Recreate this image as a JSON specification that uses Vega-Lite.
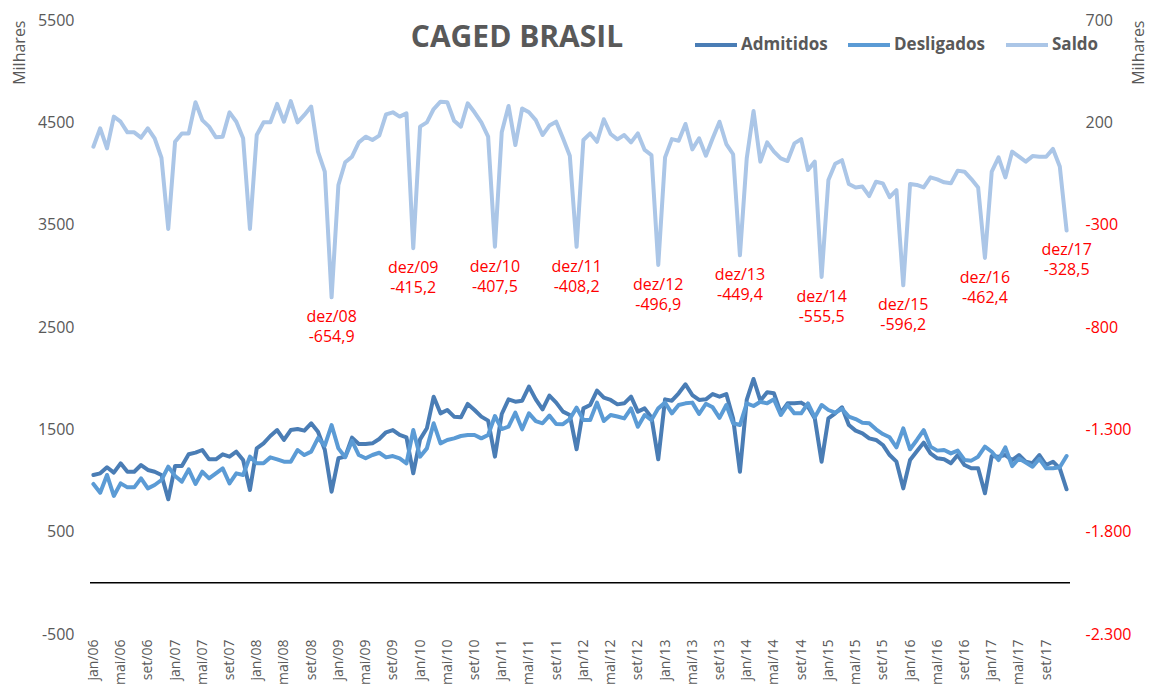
{
  "$schema": "https://vega.github.io/schema/vega-lite/v6.json",
  "width": 980,
  "height": 614,
  "autosize": "none",
  "padding": {"left": 90, "top": 20, "right": 92, "bottom": 53},
  "background": "white",
  "config": {"font": "Open Sans", "view": {"stroke": null}},
  "title": {"text": "CAGED BRASIL", "anchor": "middle", "frame": "group", "fontSize": 30, "fontWeight": "bold", "color": "#595959", "font": "Open Sans", "dx": -63, "dy": 45},
  "data": {"values": [
    {"mes":"jan/06","Admitidos":1054,"Desligados":966,"Saldo":81},
    {"mes":"fev/06","Admitidos":1070,"Desligados":881,"Saldo":171},
    {"mes":"mar/06","Admitidos":1129,"Desligados":1054,"Saldo":73},
    {"mes":"abr/06","Admitidos":1077,"Desligados":849,"Saldo":228},
    {"mes":"mai/06","Admitidos":1168,"Desligados":972,"Saldo":203},
    {"mes":"jun/06","Admitidos":1086,"Desligados":933,"Saldo":151},
    {"mes":"jul/06","Admitidos":1086,"Desligados":933,"Saldo":151},
    {"mes":"ago/06","Admitidos":1151,"Desligados":1021,"Saldo":125},
    {"mes":"set/06","Admitidos":1103,"Desligados":923,"Saldo":171},
    {"mes":"out/06","Admitidos":1086,"Desligados":956,"Saldo":122},
    {"mes":"nov/06","Admitidos":1054,"Desligados":1005,"Saldo":27},
    {"mes":"dez/06","Admitidos":816,"Desligados":1135,"Saldo":-321},
    {"mes":"jan/07","Admitidos":1142,"Desligados":1044,"Saldo":105},
    {"mes":"fev/07","Admitidos":1142,"Desligados":989,"Saldo":146},
    {"mes":"mar/07","Admitidos":1256,"Desligados":1109,"Saldo":146},
    {"mes":"abr/07","Admitidos":1272,"Desligados":966,"Saldo":298},
    {"mes":"mai/07","Admitidos":1298,"Desligados":1086,"Saldo":211},
    {"mes":"jun/07","Admitidos":1207,"Desligados":1021,"Saldo":179},
    {"mes":"jul/07","Admitidos":1207,"Desligados":1070,"Saldo":127},
    {"mes":"ago/07","Admitidos":1256,"Desligados":1119,"Saldo":130},
    {"mes":"set/07","Admitidos":1233,"Desligados":972,"Saldo":249},
    {"mes":"out/07","Admitidos":1282,"Desligados":1070,"Saldo":203},
    {"mes":"nov/07","Admitidos":1200,"Desligados":1054,"Saldo":122},
    {"mes":"dez/07","Admitidos":907,"Desligados":1233,"Saldo":-321},
    {"mes":"jan/08","Admitidos":1314,"Desligados":1168,"Saldo":138},
    {"mes":"fev/08","Admitidos":1363,"Desligados":1168,"Saldo":200},
    {"mes":"mar/08","Admitidos":1435,"Desligados":1226,"Saldo":200},
    {"mes":"abr/08","Admitidos":1493,"Desligados":1207,"Saldo":290},
    {"mes":"mai/08","Admitidos":1396,"Desligados":1184,"Saldo":203},
    {"mes":"jun/08","Admitidos":1493,"Desligados":1184,"Saldo":304},
    {"mes":"jul/08","Admitidos":1503,"Desligados":1298,"Saldo":200},
    {"mes":"ago/08","Admitidos":1487,"Desligados":1249,"Saldo":236},
    {"mes":"set/08","Admitidos":1559,"Desligados":1282,"Saldo":277},
    {"mes":"out/08","Admitidos":1477,"Desligados":1415,"Saldo":57},
    {"mes":"nov/08","Admitidos":1300,"Desligados":1341,"Saldo":-41},
    {"mes":"dez/08","Admitidos":891,"Desligados":1542,"Saldo":-654.9},
    {"mes":"jan/09","Admitidos":1217,"Desligados":1314,"Saldo":-106},
    {"mes":"fev/09","Admitidos":1233,"Desligados":1228,"Saldo":5},
    {"mes":"mar/09","Admitidos":1419,"Desligados":1387,"Saldo":32},
    {"mes":"abr/09","Admitidos":1357,"Desligados":1249,"Saldo":102},
    {"mes":"mai/09","Admitidos":1357,"Desligados":1217,"Saldo":130},
    {"mes":"jun/09","Admitidos":1363,"Desligados":1249,"Saldo":114},
    {"mes":"jul/09","Admitidos":1406,"Desligados":1271,"Saldo":135},
    {"mes":"ago/09","Admitidos":1471,"Desligados":1226,"Saldo":239},
    {"mes":"set/09","Admitidos":1493,"Desligados":1239,"Saldo":249},
    {"mes":"out/09","Admitidos":1445,"Desligados":1217,"Saldo":228},
    {"mes":"nov/09","Admitidos":1422,"Desligados":1168,"Saldo":244},
    {"mes":"dez/09","Admitidos":1070,"Desligados":1493,"Saldo":-415.2},
    {"mes":"jan/10","Admitidos":1402,"Desligados":1233,"Saldo":179},
    {"mes":"fev/10","Admitidos":1510,"Desligados":1314,"Saldo":200},
    {"mes":"mar/10","Admitidos":1819,"Desligados":1559,"Saldo":265},
    {"mes":"abr/10","Admitidos":1656,"Desligados":1363,"Saldo":301},
    {"mes":"mai/10","Admitidos":1689,"Desligados":1396,"Saldo":298},
    {"mes":"jun/10","Admitidos":1624,"Desligados":1412,"Saldo":208},
    {"mes":"jul/10","Admitidos":1617,"Desligados":1435,"Saldo":179},
    {"mes":"ago/10","Admitidos":1748,"Desligados":1445,"Saldo":293},
    {"mes":"set/10","Admitidos":1689,"Desligados":1445,"Saldo":249},
    {"mes":"out/10","Admitidos":1624,"Desligados":1412,"Saldo":200},
    {"mes":"nov/10","Admitidos":1585,"Desligados":1445,"Saldo":130},
    {"mes":"dez/10","Admitidos":1233,"Desligados":1630,"Saldo":-407.5},
    {"mes":"jan/11","Admitidos":1650,"Desligados":1503,"Saldo":151},
    {"mes":"fev/11","Admitidos":1793,"Desligados":1526,"Saldo":280},
    {"mes":"mar/11","Admitidos":1770,"Desligados":1663,"Saldo":89},
    {"mes":"abr/11","Admitidos":1780,"Desligados":1500,"Saldo":268},
    {"mes":"mai/11","Admitidos":1917,"Desligados":1656,"Saldo":249},
    {"mes":"jun/11","Admitidos":1793,"Desligados":1580,"Saldo":211},
    {"mes":"jul/11","Admitidos":1695,"Desligados":1559,"Saldo":138},
    {"mes":"ago/11","Admitidos":1829,"Desligados":1634,"Saldo":184},
    {"mes":"set/11","Admitidos":1761,"Desligados":1552,"Saldo":203},
    {"mes":"out/11","Admitidos":1673,"Desligados":1550,"Saldo":122},
    {"mes":"nov/11","Admitidos":1640,"Desligados":1600,"Saldo":37},
    {"mes":"dez/11","Admitidos":1305,"Desligados":1712,"Saldo":-408.2},
    {"mes":"jan/12","Admitidos":1705,"Desligados":1591,"Saldo":114},
    {"mes":"fev/12","Admitidos":1738,"Desligados":1591,"Saldo":146},
    {"mes":"mar/12","Admitidos":1878,"Desligados":1761,"Saldo":105},
    {"mes":"abr/12","Admitidos":1809,"Desligados":1581,"Saldo":215},
    {"mes":"mai/12","Admitidos":1787,"Desligados":1640,"Saldo":143},
    {"mes":"jun/12","Admitidos":1744,"Desligados":1625,"Saldo":117},
    {"mes":"jul/12","Admitidos":1754,"Desligados":1607,"Saldo":138},
    {"mes":"ago/12","Admitidos":1819,"Desligados":1705,"Saldo":102},
    {"mes":"set/12","Admitidos":1673,"Desligados":1525,"Saldo":146},
    {"mes":"out/12","Admitidos":1705,"Desligados":1640,"Saldo":65},
    {"mes":"nov/12","Admitidos":1617,"Desligados":1591,"Saldo":40},
    {"mes":"dez/12","Admitidos":1207,"Desligados":1705,"Saldo":-496.9},
    {"mes":"jan/13","Admitidos":1793,"Desligados":1761,"Saldo":29},
    {"mes":"fev/13","Admitidos":1780,"Desligados":1656,"Saldo":118},
    {"mes":"mar/13","Admitidos":1852,"Desligados":1738,"Saldo":110},
    {"mes":"abr/13","Admitidos":1940,"Desligados":1754,"Saldo":192},
    {"mes":"mai/13","Admitidos":1835,"Desligados":1761,"Saldo":68},
    {"mes":"jun/13","Admitidos":1787,"Desligados":1650,"Saldo":122},
    {"mes":"jul/13","Admitidos":1793,"Desligados":1750,"Saldo":37},
    {"mes":"ago/13","Admitidos":1845,"Desligados":1715,"Saldo":122},
    {"mes":"set/13","Admitidos":1819,"Desligados":1612,"Saldo":203},
    {"mes":"out/13","Admitidos":1845,"Desligados":1738,"Saldo":94},
    {"mes":"nov/13","Admitidos":1605,"Desligados":1559,"Saldo":44},
    {"mes":"dez/13","Admitidos":1086,"Desligados":1542,"Saldo":-449.4},
    {"mes":"jan/14","Admitidos":1787,"Desligados":1754,"Saldo":24},
    {"mes":"fev/14","Admitidos":1992,"Desligados":1728,"Saldo":255},
    {"mes":"mar/14","Admitidos":1780,"Desligados":1770,"Saldo":8},
    {"mes":"abr/14","Admitidos":1862,"Desligados":1754,"Saldo":102},
    {"mes":"mai/14","Admitidos":1852,"Desligados":1793,"Saldo":57},
    {"mes":"jun/14","Admitidos":1660,"Desligados":1640,"Saldo":24},
    {"mes":"jul/14","Admitidos":1754,"Desligados":1738,"Saldo":11},
    {"mes":"ago/14","Admitidos":1754,"Desligados":1656,"Saldo":97},
    {"mes":"set/14","Admitidos":1761,"Desligados":1656,"Saldo":118},
    {"mes":"out/14","Admitidos":1721,"Desligados":1754,"Saldo":-33},
    {"mes":"nov/14","Admitidos":1607,"Desligados":1617,"Saldo":8},
    {"mes":"dez/14","Admitidos":1184,"Desligados":1738,"Saldo":-555.5},
    {"mes":"jan/15","Admitidos":1607,"Desligados":1689,"Saldo":-82},
    {"mes":"fev/15","Admitidos":1656,"Desligados":1663,"Saldo":-2},
    {"mes":"mar/15","Admitidos":1715,"Desligados":1700,"Saldo":15},
    {"mes":"abr/15","Admitidos":1542,"Desligados":1624,"Saldo":-101},
    {"mes":"mai/15","Admitidos":1487,"Desligados":1600,"Saldo":-118},
    {"mes":"jun/15","Admitidos":1461,"Desligados":1565,"Saldo":-114},
    {"mes":"jul/15","Admitidos":1412,"Desligados":1559,"Saldo":-160},
    {"mes":"ago/15","Admitidos":1396,"Desligados":1500,"Saldo":-90},
    {"mes":"set/15","Admitidos":1347,"Desligados":1454,"Saldo":-98},
    {"mes":"out/15","Admitidos":1249,"Desligados":1422,"Saldo":-166},
    {"mes":"nov/15","Admitidos":1184,"Desligados":1324,"Saldo":-131},
    {"mes":"dez/15","Admitidos":923,"Desligados":1510,"Saldo":-596.2},
    {"mes":"jan/16","Admitidos":1200,"Desligados":1305,"Saldo":-101},
    {"mes":"fev/16","Admitidos":1285,"Desligados":1396,"Saldo":-106},
    {"mes":"mar/16","Admitidos":1370,"Desligados":1493,"Saldo":-118},
    {"mes":"abr/16","Admitidos":1265,"Desligados":1331,"Saldo":-69},
    {"mes":"mai/16","Admitidos":1217,"Desligados":1292,"Saldo":-79},
    {"mes":"jun/16","Admitidos":1207,"Desligados":1298,"Saldo":-93},
    {"mes":"jul/16","Admitidos":1168,"Desligados":1265,"Saldo":-98},
    {"mes":"ago/16","Admitidos":1249,"Desligados":1292,"Saldo":-36},
    {"mes":"set/16","Admitidos":1151,"Desligados":1200,"Saldo":-41},
    {"mes":"out/16","Admitidos":1119,"Desligados":1194,"Saldo":-77},
    {"mes":"nov/16","Admitidos":1119,"Desligados":1233,"Saldo":-118},
    {"mes":"dez/16","Admitidos":875,"Desligados":1331,"Saldo":-462.4},
    {"mes":"jan/17","Admitidos":1240,"Desligados":1281,"Saldo":-41},
    {"mes":"fev/17","Admitidos":1233,"Desligados":1200,"Saldo":29},
    {"mes":"mar/17","Admitidos":1249,"Desligados":1324,"Saldo":-69},
    {"mes":"abr/17","Admitidos":1200,"Desligados":1140,"Saldo":57},
    {"mes":"mai/17","Admitidos":1249,"Desligados":1215,"Saldo":32},
    {"mes":"jun/17","Admitidos":1184,"Desligados":1176,"Saldo":8},
    {"mes":"jul/17","Admitidos":1170,"Desligados":1135,"Saldo":35},
    {"mes":"ago/17","Admitidos":1249,"Desligados":1212,"Saldo":32},
    {"mes":"set/17","Admitidos":1151,"Desligados":1119,"Saldo":32},
    {"mes":"out/17","Admitidos":1184,"Desligados":1119,"Saldo":70},
    {"mes":"nov/17","Admitidos":1119,"Desligados":1130,"Saldo":-16},
    {"mes":"dez/17","Admitidos":914,"Desligados":1239,"Saldo":-328.5}
  ]},
  "transform": [{"fold": ["Admitidos", "Desligados", "Saldo"], "as": ["serie", "valor"]}],
  "layer": [
    {
      "layer": [
        {
          "transform": [{"filter": "datum.serie != 'Saldo'"}],
          "mark": {"type": "line", "strokeWidth": 4, "strokeJoin": "round", "strokeCap": "round"},
          "encoding": {
            "x": {"field": "mes", "type": "ordinal", "sort": null, "scale": {"type": "point", "padding": 0.5},
              "axis": {"title": null, "orient": "bottom", "labelAngle": 270, "labelOverlap": false, "ticks": false, "domain": false,
                "labelExpr": "indexof(['jan','mai','set'], slice(datum.value,0,3)) >= 0 ? datum.value : ''",
                "labelFontSize": 14, "labelColor": "#595959", "labelPadding": 5}},
            "y": {"field": "valor", "type": "quantitative", "scale": {"domain": [-500, 5500], "nice": false, "zero": false},
              "axis": {"orient": "left", "values": [-500, 500, 1500, 2500, 3500, 4500, 5500], "grid": false, "ticks": false, "domain": false,
                "labelExpr": "replace(format(datum.value, 'd'), '\u2212', '-')",
                "labelFontSize": 16, "labelColor": "#595959", "labelPadding": 16,
                "title": "Milhares", "titleFontSize": 16, "titleFontWeight": "normal", "titleColor": "#595959", "titleAnchor": "end", "titlePadding": 10}},
            "color": {"field": "serie", "type": "nominal",
              "scale": {"domain": ["Admitidos", "Desligados", "Saldo"], "range": ["#4a7db5", "#5b9bd5", "#abc6e7"]},
              "legend": {"title": null, "orient": "none", "legendX": 603, "legendY": 2, "direction": "horizontal",
                "labelFontSize": 17, "labelFontWeight": "bold", "labelColor": "#595959", "symbolType": "stroke",
                "symbolSize": 1764, "symbolStrokeWidth": 4, "labelOffset": 2, "columnPadding": 12}}
          }
        },
        {
          "data": {"values": [{}]},
          "mark": {"type": "rule", "color": "#000000", "strokeWidth": 1.5},
          "encoding": {"y": {"datum": 0}}
        }
      ]
    },
    {
      "transform": [{"filter": "datum.serie == 'Saldo'"}],
      "layer": [
        {
          "mark": {"type": "line", "strokeWidth": 4, "strokeJoin": "round", "strokeCap": "round"},
          "encoding": {
            "x": {"field": "mes", "type": "ordinal", "sort": null},
            "y": {"field": "valor", "type": "quantitative", "scale": {"domain": [-2300, 700], "nice": false, "zero": false},
              "axis": {"orient": "right", "values": [-2300, -1800, -1300, -800, -300, 200, 700], "grid": false, "ticks": false, "domain": false,
                "labelExpr": "replace(replace(format(datum.value, ','), ',', '.'), '\u2212', '-')",
                "labelFontSize": 16, "labelPadding": 15,
                "labelColor": {"condition": {"test": "datum.value < 0", "value": "#ff0000"}, "value": "#595959"},
                "title": "Milhares", "titleAngle": 270, "titleFontSize": 16, "titleFontWeight": "normal", "titleColor": "#595959", "titleAnchor": "end", "titlePadding": 16}},
            "color": {"field": "serie", "type": "nominal"}
          }
        },
        {
          "transform": [
            {"filter": "slice(datum.mes,0,3) == 'dez' && toNumber(slice(datum.mes,4)) >= 8"},
            {"calculate": "[datum.mes, replace(replace(format(datum.valor, '.1f'), '.', ','), '\u2212', '-')]", "as": "rotulo"}
          ],
          "mark": {"type": "text", "color": "#ff0000", "fontSize": 16, "baseline": "top", "align": "center", "dy": 12, "lineHeight": 20},
          "encoding": {
            "x": {"field": "mes", "type": "ordinal", "sort": null},
            "y": {"field": "valor", "type": "quantitative"},
            "text": {"field": "rotulo"}
          }
        }
      ]
    }
  ],
  "resolve": {"scale": {"y": "independent"}}
}
